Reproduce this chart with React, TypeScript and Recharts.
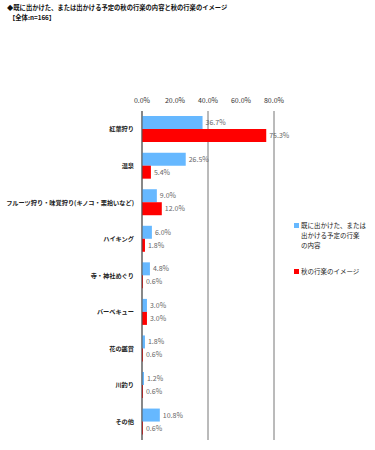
import React from 'react';
import { BarChart, Bar, XAxis, YAxis, CartesianGrid, LabelList } from 'recharts';

const CATEGORIES = ['紅葉狩り', '温泉', 'フルーツ狩り・味覚狩り(キノコ・栗拾いなど)', 'ハイキング', '寺・神社めぐり', 'バーベキュー', '花の鑑賞', '川釣り', 'その他'];
const WENT = [36.7, 26.5, 9.0, 6.0, 4.8, 3.0, 1.8, 1.2, 10.8];
const IMAGE = [75.3, 5.4, 12.0, 1.8, 0.6, 3.0, 0.6, 0.6, 0.6];
const X_TICKS = [0, 20, 40, 60, 80];
const LEGEND_WENT = ['既に出かけた、または', '出かける予定の行楽', 'の内容'];
const LEGEND_IMAGE = '秋の行楽のイメージ';

const BLUE = '#66B8FF';
const RED = '#FF0000';
const FONT = '"Noto Sans CJK JP", sans-serif';

const data = CATEGORIES.map((name, i) => ({ name, went: WENT[i], image: IMAGE[i] }));

const pct = (v: any) => `${Number(v).toFixed(1)}%`;

const LegendBox = () => (
  <div style={{ position: 'absolute', left: 294, top: 220, width: 80, fontFamily: FONT, fontSize: 6.5, color: '#222', lineHeight: '10px' }}>
    <div style={{ display: 'flex', alignItems: 'flex-start' }}>
      <span style={{ width: 5, height: 5, background: BLUE, marginTop: 3, marginRight: 2, flex: 'none' }} />
      <span style={{ whiteSpace: 'nowrap' }}>
        {LEGEND_WENT.map((l) => (
          <div key={l}>{l}</div>
        ))}
      </span>
    </div>
    <div style={{ display: 'flex', alignItems: 'flex-start', marginTop: 16 }}>
      <span style={{ width: 5, height: 5, background: RED, marginTop: 3, marginRight: 2, flex: 'none' }} />
      <span>{LEGEND_IMAGE}</span>
    </div>
  </div>
);

export default function App() {
  return (
    <div style={{ position: 'absolute', left: 0, top: 0, width: 375, height: 450, background: '#fff', fontFamily: FONT }}>
      <div style={{ position: 'absolute', left: 7, top: 3, fontSize: 6.3, lineHeight: '10px', color: '#111', fontWeight: 'bold' }}>
        <div>◆既に出かけた、または出かける予定の秋の行楽の内容と秋の行楽のイメージ</div>
        <div style={{ paddingLeft: 2 }}>【全体:n=166】</div>
      </div>
      <BarChart
        width={375}
        height={450}
        data={data}
        layout="vertical"
        margin={{ top: 91, right: 101, bottom: 10, left: 8 }}
        barCategoryGap="14%"
        barGap={0}
      >
        <CartesianGrid horizontal={false} stroke="#777" />
        <XAxis
          type="number"
          orientation="top"
          domain={[0, 80]}
          ticks={X_TICKS}
          tickFormatter={pct}
          axisLine={false}
          tickLine={false}
          height={20}
          tick={{ fontSize: 7, fill: '#333', fontFamily: FONT }}
        />
        <YAxis
          type="category"
          dataKey="name"
          width={134}
          axisLine={{ stroke: '#555' }}
          tickLine={false}
          interval={0}
          tick={{ fontSize: 6.2, fill: '#222', fontFamily: FONT, fontWeight: 'bold' }}
        />
        <Bar dataKey="went" fill={BLUE} isAnimationActive={false}>
          <LabelList dataKey="went" position="right" formatter={pct} offset={3} style={{ fontSize: 7, fill: '#666', fontFamily: FONT }} />
        </Bar>
        <Bar dataKey="image" fill={RED} isAnimationActive={false}>
          <LabelList dataKey="image" position="right" formatter={pct} offset={3} style={{ fontSize: 7, fill: '#666', fontFamily: FONT }} />
        </Bar>
      </BarChart>
      <LegendBox />
    </div>
  );
}
